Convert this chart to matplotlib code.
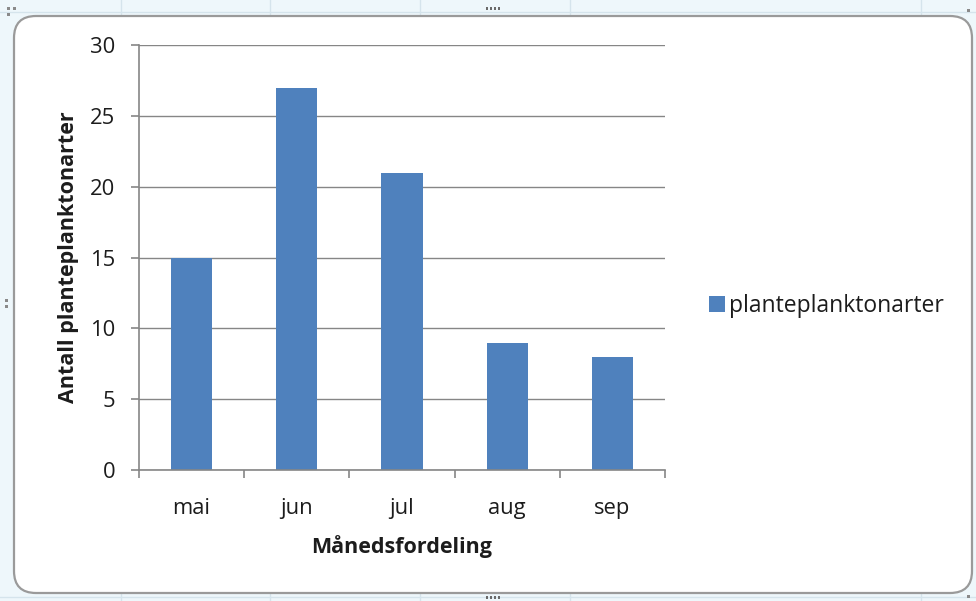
import matplotlib
matplotlib.use("Agg")
import matplotlib.pyplot as plt
from matplotlib.patches import FancyBboxPatch, Rectangle
from matplotlib.lines import Line2D

# Data
months = ["mai", "jun", "jul", "aug", "sep"]
species_counts = [15, 27, 21, 9, 8]
series_name = "planteplanktonarter"
y_ticks = [0, 5, 10, 15, 20, 25, 30]

W, H = 976, 601
plt.rcParams["font.family"] = ["Open Sans", "DejaVu Sans"]
text_color = "#1c1c1c"

fig = plt.figure(figsize=(W / 100, H / 100), dpi=100)
fig.patch.set_facecolor("#eef7fb")

# Pixel-space background layer: sheet cells and the rounded chart frame
bg = fig.add_axes([0, 0, 1, 1], zorder=0)
bg.set_xlim(0, W)
bg.set_ylim(H, 0)
bg.axis("off")
for x in [121, 270, 420, 570, 921]:
    bg.add_line(Line2D([x, x], [0, H], color="#d5e4ec", lw=1, zorder=0.5))
for y in [12, 597]:
    bg.add_line(Line2D([0, W], [y, y], color="#d5e4ec", lw=1, zorder=0.5))
frame = FancyBboxPatch((14, 16), 958, 577,
                       boxstyle="round,pad=0,rounding_size=22",
                       facecolor="white", edgecolor="#9a9a9a", lw=1.6, zorder=1)
bg.add_patch(frame)
# selection handles
for cx, cy in [(493, 8), (493, 597)]:
    for dx in (-6, -2, 2, 6):
        bg.add_patch(Rectangle((cx + dx - 1, cy - 1.5), 2, 3, color="#6a6a6a", lw=0, zorder=2))
for cx, cy in [(8, 8), (14, 8), (8, 14), (968, 10), (968, 596), (6, 300), (6, 306)]:
    bg.add_patch(Rectangle((cx - 1.5, cy - 1.5), 3, 3, color="#8a8a8a", lw=0, zorder=2))

# Plot area
ax_left, ax_right, ax_top, ax_bottom = 139, 665, 45, 470
ax = fig.add_axes([ax_left / W, 1 - ax_bottom / H,
                   (ax_right - ax_left) / W, (ax_bottom - ax_top) / H], zorder=1)
ax.set_facecolor("none")
xs = range(len(months))
ax.bar(xs, species_counts, width=0.39, color="#4f81bd", zorder=2, label=series_name)
ax.set_xlim(-0.5, len(months) - 0.5)
ax.set_ylim(0, 30)
ax.set_yticks(y_ticks)
ax.yaxis.grid(True, color="#868686", lw=1)
ax.set_axisbelow(True)

grey = "#868686"
for side in ("top", "right"):
    ax.spines[side].set_visible(False)
for side in ("left", "bottom"):
    ax.spines[side].set_color(grey)
    ax.spines[side].set_linewidth(1.2)

ax.set_xticks([i - 0.5 for i in range(len(months) + 1)], minor=False)
ax.set_xticklabels([])
ax.set_xticks(list(xs), minor=True)
ax.set_xticklabels(months, minor=True, fontsize=15.8, color=text_color)
ax.tick_params(axis="x", which="major", length=6, width=1.2, color=grey, direction="out")
ax.tick_params(axis="x", which="minor", length=0, pad=20.5)
ax.tick_params(axis="y", length=6, width=1.2, color=grey, direction="out",
               labelsize=15.8, labelcolor=text_color, pad=11)

ax.set_xlabel("Månedsfordeling", fontsize=15.5, fontweight="bold", color=text_color,
              va="center")
ax.xaxis.set_label_coords(0.5, (ax_bottom - 547) / (ax_bottom - ax_top))
ax.set_ylabel("Antall planteplanktonarter", fontsize=15.5, fontweight="bold",
              color=text_color, va="center")
ax.yaxis.set_label_coords((69 - ax_left) / (ax_right - ax_left), 0.5)

leg = fig.legend(loc="center left", bbox_to_anchor=(709 / W, 1 - 306 / H),
                 frameon=False, fontsize=16.5, handlelength=0.7, handleheight=0.7,
                 handletextpad=0.18, borderaxespad=0, borderpad=0,
                 labelcolor=text_color)

fig.savefig("out.png", dpi=100, facecolor=fig.get_facecolor())
